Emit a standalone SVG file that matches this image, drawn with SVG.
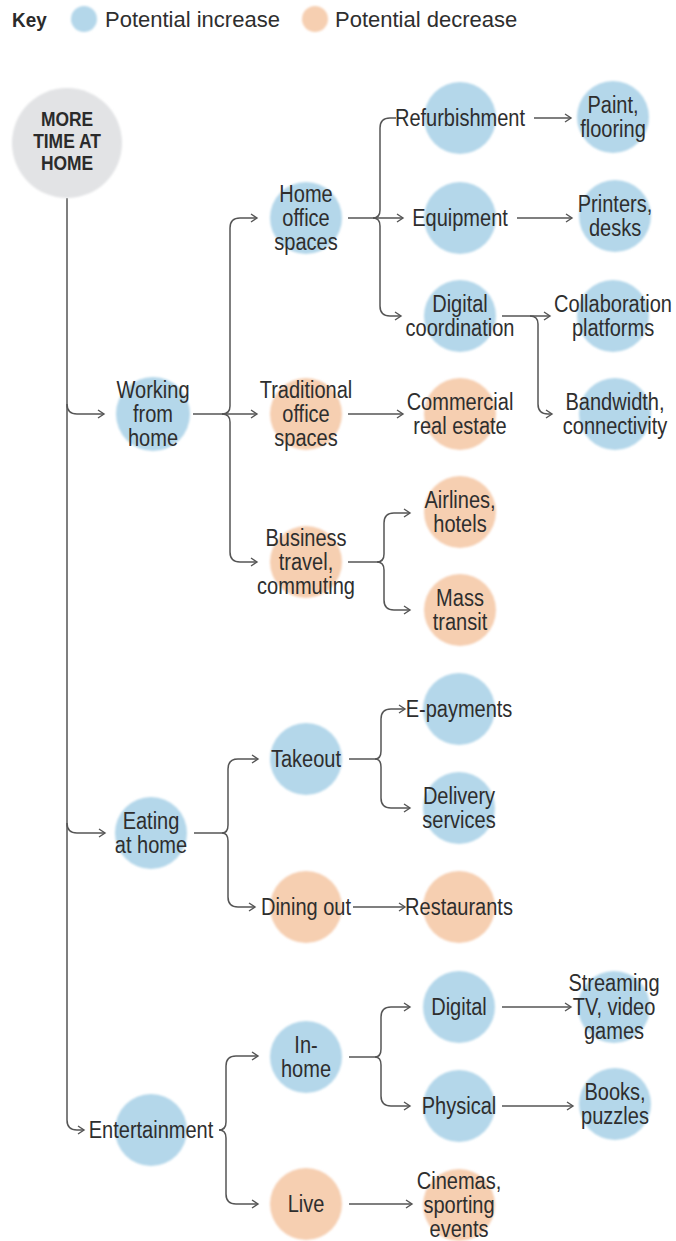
<svg xmlns="http://www.w3.org/2000/svg" width="676" height="1241" viewBox="0 0 676 1241">
<style>
.bg{fill:#ffffff}
.inc{fill:#b4d7ea}
.dec{fill:#f6cfb1}
.root{fill:#e2e3e5}
.t{font-family:"Liberation Sans",Arial,sans-serif;font-size:23px;fill:#2e2e2e;text-anchor:middle}
.tb{font-family:"Liberation Sans",Arial,sans-serif;font-size:21px;font-weight:bold;fill:#2b2b2b;text-anchor:middle}
.k{font-family:"Liberation Sans",Arial,sans-serif;font-size:22px;fill:#2e2e2e}
.kb{font-family:"Liberation Sans",Arial,sans-serif;font-size:21px;font-weight:bold;fill:#2b2b2b}
.c{fill:none;stroke:#555;stroke-width:1.5}
.a{fill:none;stroke:#555;stroke-width:1.5;marker-end:url(#ah)}
</style>
<defs>
<marker id="ah" markerWidth="9" markerHeight="10" refX="7" refY="5" orient="auto" markerUnits="userSpaceOnUse">
<path d="M1,1 L7,5 L1,9" fill="none" stroke="#555" stroke-width="1.4"/>
</marker>
<filter id="soft" x="-10%" y="-10%" width="120%" height="120%"><feGaussianBlur stdDeviation="1.2"/></filter>
</defs>
<rect class="bg" x="0" y="0" width="676" height="1241"/>

<g id="key">
<text class="kb" transform="translate(12,27) scale(0.9,1)">Key</text>
<circle class="inc" cx="84" cy="19" r="13" filter="url(#soft)"/>
<text class="k" transform="translate(105,27) scale(1,1)">Potential increase</text>
<circle class="dec" cx="315" cy="19" r="13" filter="url(#soft)"/>
<text class="k" transform="translate(335,27) scale(1,1)">Potential decrease</text>
</g>

<g id="connectors">
<path class="a" d="M67,198 L67,1120 Q67,1130 77,1130 L84,1130"/>
<path class="a" d="M67,404 Q67,414 77,414 L104,414"/>
<path class="a" d="M67,823 Q67,833 77,833 L105,833"/>

<path class="a" d="M193,414 L257,414"/>
<path class="a" d="M222,414 Q230,414 230,406 L230,228 Q230,218 240,218 L257,218"/>
<path class="a" d="M222,414 Q230,414 230,422 L230,552 Q230,562 240,562 L257,562"/>

<path class="a" d="M348,218 L403,218"/>
<path class="c" d="M373,218 Q380,218 380,210 L380,128 Q380,118 390,118 L396,118"/>
<path class="a" d="M373,218 Q380,218 380,226 L380,306 Q380,316 390,316 L401,316"/>

<path class="a" d="M534,118 L571,118"/>
<path class="a" d="M517,218 L572,218"/>
<path class="a" d="M502,316 L550,316"/>
<path class="a" d="M530,316 Q538,316 538,324 L538,404 Q538,414 548,414 L552,414"/>
<path class="a" d="M348,414 L403,414"/>

<path class="c" d="M348,562 L377,562"/>
<path class="a" d="M377,562 Q384,562 384,554 L384,523 Q384,513 394,513 L410,513"/>
<path class="a" d="M377,562 Q384,562 384,570 L384,600 Q384,610 394,610 L410,610"/>

<path class="c" d="M194,833 L222,833"/>
<path class="a" d="M222,833 Q228,833 228,825 L228,769 Q228,759 238,759 L258,759"/>
<path class="a" d="M222,833 Q228,833 228,841 L228,897 Q228,907 238,907 L255,907"/>

<path class="c" d="M349,759 L375,759"/>
<path class="a" d="M375,759 Q381,759 381,751 L381,719 Q381,709 391,709 L405,709"/>
<path class="a" d="M375,759 Q381,759 381,767 L381,798 Q381,808 391,808 L410,808"/>
<path class="a" d="M353,907 L405,907"/>

<path class="a" d="M219,1130 Q226,1130 226,1122 L226,1066 Q226,1056 236,1056 L258,1056"/>
<path class="a" d="M219,1130 Q226,1130 226,1138 L226,1194 Q226,1204 236,1204 L258,1204"/>

<path class="c" d="M349,1057 L375,1057"/>
<path class="a" d="M375,1057 Q381,1057 381,1049 L381,1017 Q381,1007 391,1007 L410,1007"/>
<path class="a" d="M375,1057 Q381,1057 381,1065 L381,1096 Q381,1106 391,1106 L410,1106"/>
<path class="a" d="M502,1007 L571,1007"/>
<path class="a" d="M502,1106 L573,1106"/>
<path class="a" d="M349,1204 L412,1204"/>
</g>

<g id="n-root" transform="translate(67,143)">
<circle class="root" r="55" filter="url(#soft)"/>
<text class="tb" transform="scale(0.83,1)"><tspan x="0" y="-17">MORE</tspan><tspan x="0" y="5">TIME AT</tspan><tspan x="0" y="27">HOME</tspan></text>
</g>

<g id="n-wfh" transform="translate(153,414)">
<circle class="inc" r="37" filter="url(#soft)"/>
<text class="t" transform="scale(0.87,1)"><tspan x="0" y="-16">Working</tspan><tspan x="0" y="8">from</tspan><tspan x="0" y="32">home</tspan></text>
</g>
<g id="n-homeoffice" transform="translate(306,218)">
<circle class="inc" r="36" filter="url(#soft)"/>
<text class="t" transform="scale(0.87,1)"><tspan x="0" y="-16">Home</tspan><tspan x="0" y="8">office</tspan><tspan x="0" y="32">spaces</tspan></text>
</g>
<g id="n-traditional" transform="translate(306,414)">
<circle class="dec" r="36" filter="url(#soft)"/>
<text class="t" transform="scale(0.87,1)"><tspan x="0" y="-16">Traditional</tspan><tspan x="0" y="8">office</tspan><tspan x="0" y="32">spaces</tspan></text>
</g>
<g id="n-business" transform="translate(306,562)">
<circle class="dec" r="36" filter="url(#soft)"/>
<text class="t" transform="scale(0.87,1)"><tspan x="0" y="-16">Business</tspan><tspan x="0" y="8">travel,</tspan><tspan x="0" y="32">commuting</tspan></text>
</g>
<g id="n-refurb" transform="translate(460,118)">
<circle class="inc" r="36" filter="url(#soft)"/>
<text class="t" transform="scale(0.87,1)"><tspan x="0" y="8">Refurbishment</tspan></text>
</g>
<g id="n-equipment" transform="translate(460,218)">
<circle class="inc" r="36" filter="url(#soft)"/>
<text class="t" transform="scale(0.87,1)"><tspan x="0" y="8">Equipment</tspan></text>
</g>
<g id="n-digicoord" transform="translate(460,316)">
<circle class="inc" r="36" filter="url(#soft)"/>
<text class="t" transform="scale(0.87,1)"><tspan x="0" y="-4">Digital</tspan><tspan x="0" y="20">coordination</tspan></text>
</g>
<g id="n-commercial" transform="translate(460,414)">
<circle class="dec" r="36" filter="url(#soft)"/>
<text class="t" transform="scale(0.87,1)"><tspan x="0" y="-4">Commercial</tspan><tspan x="0" y="20">real estate</tspan></text>
</g>
<g id="n-airlines" transform="translate(460,512)">
<circle class="dec" r="36" filter="url(#soft)"/>
<text class="t" transform="scale(0.87,1)"><tspan x="0" y="-4">Airlines,</tspan><tspan x="0" y="20">hotels</tspan></text>
</g>
<g id="n-transit" transform="translate(460,610)">
<circle class="dec" r="36" filter="url(#soft)"/>
<text class="t" transform="scale(0.87,1)"><tspan x="0" y="-4">Mass</tspan><tspan x="0" y="20">transit</tspan></text>
</g>
<g id="n-paint" transform="translate(613,117)">
<circle class="inc" r="36" filter="url(#soft)"/>
<text class="t" transform="scale(0.87,1)"><tspan x="0" y="-4">Paint,</tspan><tspan x="0" y="20">flooring</tspan></text>
</g>
<g id="n-printers" transform="translate(615,216)">
<circle class="inc" r="36" filter="url(#soft)"/>
<text class="t" transform="scale(0.87,1)"><tspan x="0" y="-4">Printers,</tspan><tspan x="0" y="20">desks</tspan></text>
</g>
<g id="n-collab" transform="translate(613,316)">
<circle class="inc" r="36" filter="url(#soft)"/>
<text class="t" transform="scale(0.87,1)"><tspan x="0" y="-4">Collaboration</tspan><tspan x="0" y="20">platforms</tspan></text>
</g>
<g id="n-bandwidth" transform="translate(615,414)">
<circle class="inc" r="36" filter="url(#soft)"/>
<text class="t" transform="scale(0.87,1)"><tspan x="0" y="-4">Bandwidth,</tspan><tspan x="0" y="20">connectivity</tspan></text>
</g>

<g id="n-eating" transform="translate(151,833)">
<circle class="inc" r="36" filter="url(#soft)"/>
<text class="t" transform="scale(0.87,1)"><tspan x="0" y="-4">Eating</tspan><tspan x="0" y="20">at home</tspan></text>
</g>
<g id="n-takeout" transform="translate(306,759)">
<circle class="inc" r="36" filter="url(#soft)"/>
<text class="t" transform="scale(0.87,1)"><tspan x="0" y="8">Takeout</tspan></text>
</g>
<g id="n-diningout" transform="translate(306,907)">
<circle class="dec" r="36" filter="url(#soft)"/>
<text class="t" transform="scale(0.87,1)"><tspan x="0" y="8">Dining out</tspan></text>
</g>
<g id="n-epayments" transform="translate(459,709)">
<circle class="inc" r="36" filter="url(#soft)"/>
<text class="t" transform="scale(0.87,1)"><tspan x="0" y="8">E-payments</tspan></text>
</g>
<g id="n-delivery" transform="translate(459,808)">
<circle class="inc" r="36" filter="url(#soft)"/>
<text class="t" transform="scale(0.87,1)"><tspan x="0" y="-4">Delivery</tspan><tspan x="0" y="20">services</tspan></text>
</g>
<g id="n-restaurants" transform="translate(459,907)">
<circle class="dec" r="36" filter="url(#soft)"/>
<text class="t" transform="scale(0.87,1)"><tspan x="0" y="8">Restaurants</tspan></text>
</g>

<g id="n-entertainment" transform="translate(151,1130)">
<circle class="inc" r="36" filter="url(#soft)"/>
<text class="t" transform="scale(0.87,1)"><tspan x="0" y="8">Entertainment</tspan></text>
</g>
<g id="n-inhome" transform="translate(306,1057)">
<circle class="inc" r="36" filter="url(#soft)"/>
<text class="t" transform="scale(0.87,1)"><tspan x="0" y="-4">In-</tspan><tspan x="0" y="20">home</tspan></text>
</g>
<g id="n-live" transform="translate(306,1204)">
<circle class="dec" r="36" filter="url(#soft)"/>
<text class="t" transform="scale(0.87,1)"><tspan x="0" y="8">Live</tspan></text>
</g>
<g id="n-digital" transform="translate(459,1007)">
<circle class="inc" r="36" filter="url(#soft)"/>
<text class="t" transform="scale(0.87,1)"><tspan x="0" y="8">Digital</tspan></text>
</g>
<g id="n-physical" transform="translate(459,1106)">
<circle class="inc" r="36" filter="url(#soft)"/>
<text class="t" transform="scale(0.87,1)"><tspan x="0" y="8">Physical</tspan></text>
</g>
<g id="n-cinemas" transform="translate(459,1205)">
<circle class="dec" r="36" filter="url(#soft)"/>
<text class="t" transform="scale(0.87,1)"><tspan x="0" y="-16">Cinemas,</tspan><tspan x="0" y="8">sporting</tspan><tspan x="0" y="32">events</tspan></text>
</g>
<g id="n-streaming" transform="translate(614,1007)">
<circle class="inc" r="36" filter="url(#soft)"/>
<text class="t" transform="scale(0.87,1)"><tspan x="0" y="-16">Streaming</tspan><tspan x="0" y="8">TV, video</tspan><tspan x="0" y="32">games</tspan></text>
</g>
<g id="n-books" transform="translate(615,1104)">
<circle class="inc" r="36" filter="url(#soft)"/>
<text class="t" transform="scale(0.87,1)"><tspan x="0" y="-4">Books,</tspan><tspan x="0" y="20">puzzles</tspan></text>
</g>
</svg>
